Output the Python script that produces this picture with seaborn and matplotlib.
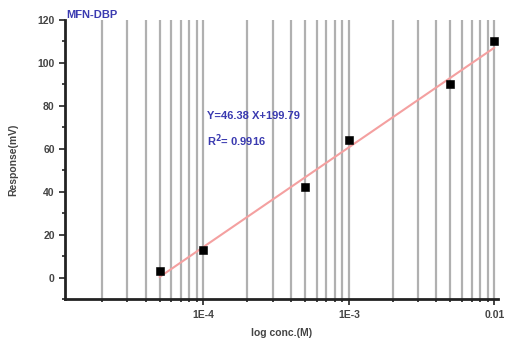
import numpy as np
import pandas as pd
import seaborn as sns
import matplotlib.pyplot as plt
from matplotlib.ticker import LogLocator, FixedLocator, FixedFormatter, MultipleLocator, NullFormatter

# measured data
conc = [5e-5, 1e-4, 5e-4, 1e-3, 5e-3, 1e-2]
response = [3, 13, 42, 64, 90, 110]

# linear fit reported on the chart: Y = slope * log10(c) + intercept
slope = 46.38
intercept = 199.79
r2 = 0.9916

x_ticks = [1e-4, 1e-3, 1e-2]
x_tick_labels = ["1E-4", "1E-3", "0.01"]

df = pd.DataFrame({"conc": conc, "response": response})
fit = pd.DataFrame({"conc": [conc[0], conc[-1]]})
fit["response"] = slope * np.log10(fit["conc"]) + intercept

sns.set_style("white")
plt.rcParams["font.family"] = ["Liberation Sans", "DejaVu Sans"]
plt.rcParams["font.weight"] = "bold"

fig = plt.figure(figsize=(5.05, 3.43), dpi=100)
ax = fig.add_axes([0.129, 0.128, 0.857, 0.814])

ax.set_xscale("log")
ax.set_xlim(1.12e-5, 1.06e-2)
ax.set_ylim(-10, 120)

# vertical grid on major + minor decades
ax.xaxis.set_major_locator(FixedLocator(x_ticks))
ax.xaxis.set_major_formatter(FixedFormatter(x_tick_labels))
ax.xaxis.set_minor_locator(LogLocator(base=10, subs=np.arange(2, 10)))
ax.xaxis.set_minor_formatter(NullFormatter())
ax.grid(True, which="both", axis="x", color="#b0b0b0", linewidth=1.6)
ax.grid(False, axis="y")
ax.set_axisbelow(True)

sns.lineplot(data=fit, x="conc", y="response", ax=ax, color="#f4a0a0", linewidth=1.5)
sns.scatterplot(data=df, x="conc", y="response", ax=ax, marker="s", s=28,
                color="black", edgecolor="black", zorder=5)

ax.yaxis.set_major_locator(MultipleLocator(20))
ax.yaxis.set_minor_locator(MultipleLocator(10))

for side in ["top", "right"]:
    ax.spines[side].set_visible(False)
for side in ["left", "bottom"]:
    ax.spines[side].set_color("#222222")
    ax.spines[side].set_linewidth(2)

ax.tick_params(which="major", direction="out", length=4, width=1.2,
               colors="#222222", labelcolor="#444444", labelsize=7.5,
               left=True, bottom=True)
ax.tick_params(which="minor", direction="out", length=2.5, width=1.2,
               colors="#222222", left=True, bottom=True)

ax.set_xlabel("log conc.(M)", fontsize=7.5, color="#444444", fontweight="bold", labelpad=6)
ax.set_ylabel("Response(mV)", fontsize=7.5, color="#444444", fontweight="bold", labelpad=14)

ax.text(0.003, 1.0, "MFN-DBP", transform=ax.transAxes, color="#3a3ab0",
        fontsize=8, fontweight="bold", va="bottom", ha="left")
ax.text(0.328, 0.656, f"Y={slope} X+{intercept}", transform=ax.transAxes,
        color="#3a3ab0", fontsize=8, fontweight="bold", va="center")
ax.text(0.328, 0.566, f"R$^2$= {r2}", transform=ax.transAxes,
        color="#3a3ab0", fontsize=8, fontweight="bold", va="center")

fig.savefig("out.png", dpi=100)
